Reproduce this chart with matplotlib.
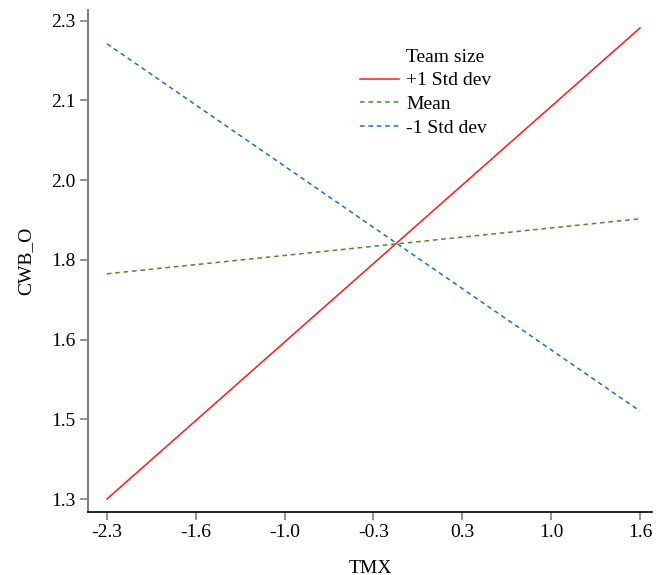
import matplotlib
matplotlib.use("Agg")
import matplotlib.pyplot as plt
from matplotlib.lines import Line2D

plt.rcParams["font.family"] = ["Liberation Serif", "DejaVu Serif"]

# data
x_ends = [-2.3, 1.6]
plus_sd = [1.30, 2.285]
mean_line = [1.771, 1.886]
minus_sd = [2.252, 1.484]

x_ticks = [-2.3, -1.65, -1.0, -0.35, 0.3, 0.95, 1.6]
x_labels = ["-2.3", "-1.6", "-1.0", "-0.3", "0.3", "1.0", "1.6"]
y_ticks = [1.3, 1.3 + 1/6, 1.3 + 2/6, 1.8, 1.8 + 1/6, 1.8 + 2/6, 2.3]
y_labels = ["1.3", "1.5", "1.6", "1.8", "2.0", "2.1", "2.3"]

fig = plt.figure(figsize=(6.66, 5.75), dpi=100)
ax = fig.add_axes([0.132, 0.1096, 0.847, 0.8734])

title_handle = Line2D([], [], color="none")
l1, = ax.plot(x_ends, plus_sd, color="#ff1a1a", lw=1.1, label="+1 Std dev")
l2, = ax.plot(x_ends, mean_line, color="#4e8a2e", lw=1.1, ls=(0, (3, 2.5)), label="Mean")
l3, = ax.plot(x_ends, minus_sd, color="#1c6fd1", lw=1.1, ls=(0, (3, 2.5)), label="-1 Std dev")

ax.set_xlim(-2.439, 1.688)
ax.set_ylim(1.273, 2.323)
ax.set_xticks(x_ticks)
ax.set_xticklabels(x_labels)
ax.set_yticks(y_ticks)
ax.set_yticklabels(y_labels)
ax.tick_params(axis="both", direction="out", length=6, width=1.2, color="#808080",
               labelsize=14, pad=3)
ax.spines["top"].set_visible(False)
ax.spines["right"].set_visible(False)
ax.spines["left"].set_color("#808080")
ax.spines["left"].set_linewidth(1.5)
ax.spines["bottom"].set_color("black")
ax.spines["bottom"].set_linewidth(1.2)

ax.set_xlabel("TMX", fontsize=14, labelpad=13)
ax.set_ylabel("CWB_O", fontsize=14, labelpad=12)

ax.legend([title_handle, l1, l2, l3], ["Team size", "+1 Std dev", "Mean", "-1 Std dev"],
          frameon=False, fontsize=14, loc="upper left", bbox_to_anchor=(0.482, 0.924),
          borderaxespad=0, borderpad=0,
          handlelength=2.0, handletextpad=0.37, labelspacing=0.32)

fig.savefig("out.png", dpi=100)
